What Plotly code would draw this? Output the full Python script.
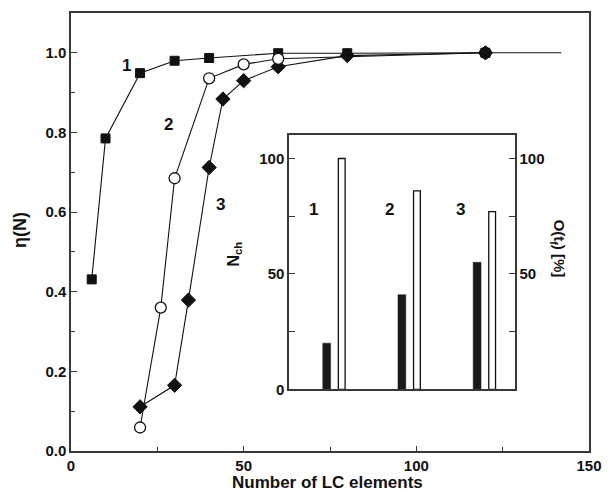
import plotly.graph_objects as go

# Efficiency eta(N) versus number of LC elements, three configurations
n_sq = [6, 10, 20, 30, 40, 60, 80, 120]
eta_sq = [0.431, 0.785, 0.949, 0.980, 0.987, 0.999, 0.999, 1.0]

n_dm = [20, 30, 34, 40, 44, 50, 60, 80, 120]
eta_dm = [0.111, 0.165, 0.379, 0.712, 0.884, 0.930, 0.965, 0.993, 1.0]

n_ci = [20, 26, 30, 40, 50, 60, 120]
eta_ci = [0.059, 0.360, 0.685, 0.936, 0.971, 0.985, 1.0]

# asymptotic continuation beyond the last computed point
limit_n = [120, 142]
limit_eta = [1.0, 1.0]

# Curve labels
curve_labels = ["1", "2", "3"]
curve_label_x = [16.2, 28.1, 43.2]
curve_label_y = [0.969, 0.819, 0.619]

# Inset: channel count and final overlap per configuration
groups = [1, 2, 3]
n_ch = [20, 41, 55]
overlap_pct = [100, 86, 77]
inset_label_x = [0.72, 1.73, 2.68]
inset_label_y = [78, 78, 78]

FONT = "Liberation Sans, Arial, Helvetica, sans-serif"
INK = "#111111"
AX = "#383838"

fig = go.Figure()

line_style = dict(color=INK, width=1.1)

fig.add_trace(go.Scatter(x=limit_n, y=limit_eta, mode="lines", line=line_style,
                         showlegend=False, hoverinfo="skip"))
fig.add_trace(go.Scatter(x=n_sq, y=eta_sq, mode="lines+markers", line=line_style,
                         marker=dict(symbol="square", size=9, color=INK,
                                     line=dict(color=INK, width=1)),
                         showlegend=False))
fig.add_trace(go.Scatter(x=n_dm, y=eta_dm, mode="lines+markers", line=line_style,
                         marker=dict(symbol="diamond", size=11, color=INK,
                                     line=dict(color=INK, width=1)),
                         showlegend=False))
ci_fill = ["white"] * (len(n_ci) - 1) + [INK]
fig.add_trace(go.Scatter(x=n_ci, y=eta_ci, mode="lines+markers", line=line_style,
                         marker=dict(symbol="circle", size=11, color=ci_fill,
                                     line=dict(color=INK, width=1.3)),
                         showlegend=False))

# Inset bars
fig.add_trace(go.Bar(x=groups, y=n_ch, xaxis="x2", yaxis="y2",
                     offset=-0.152, width=0.104,
                     marker=dict(color="#1a1a1a", line=dict(color="#1a1a1a", width=0.5)),
                     showlegend=False))
fig.add_trace(go.Bar(x=groups, y=overlap_pct, xaxis="x2", yaxis="y3",
                     offset=0.055, width=0.09,
                     marker=dict(color="white", line=dict(color=INK, width=1.3)),
                     showlegend=False))

tickfont = dict(family=FONT, size=15, color=INK, weight="bold")

fig.update_layout(
    width=613, height=494,
    margin=dict(l=71, r=14, t=11, b=43),
    paper_bgcolor="white", plot_bgcolor="white",
    barmode="overlay",
    xaxis=dict(domain=[0, 1], range=[0, 150], dtick=50, tick0=0,
               showgrid=False, zeroline=False, showline=True, mirror=True,
               linecolor=AX, linewidth=1.5, ticks="inside", ticklen=5,
               tickwidth=1, tickcolor=AX, tickfont=tickfont,
               minor=dict(ticks="inside", dtick=25, tick0=0, ticklen=4,
                          tickcolor=AX, showgrid=False)),
    yaxis=dict(domain=[0, 1], range=[0, 1.1], dtick=0.2, tick0=0,
               tickformat=".1f",
               showgrid=False, zeroline=False, showline=True, mirror=True,
               linecolor=AX, linewidth=1.5, ticks="inside", ticklen=6,
               tickwidth=1, tickcolor=AX, tickfont=tickfont,
               minor=dict(ticks="inside", dtick=0.1, tick0=0, ticklen=4,
                          tickcolor=AX, showgrid=False)),
    xaxis2=dict(domain=[0.421, 0.8566], range=[0.4, 3.4], anchor="y2",
                showgrid=False, zeroline=False, showline=True, mirror=True,
                linecolor=AX, linewidth=1.5, ticks="", showticklabels=False),
    yaxis2=dict(domain=[0.1409, 0.7205], range=[0, 110], anchor="x2",
                tickvals=[0, 50, 100], showgrid=False, zeroline=False,
                showline=True, linecolor=AX, linewidth=1.5,
                ticks="inside", ticklen=6, tickwidth=1, tickcolor=AX,
                tickfont=tickfont,
                minor=dict(ticks="inside", tickvals=[25, 75], ticklen=6,
                           tickcolor=AX, showgrid=False)),
    yaxis3=dict(range=[0, 110], anchor="x2", overlaying="y2", side="right",
                tickvals=[50, 100], showgrid=False, zeroline=False,
                showline=True, linecolor=AX, linewidth=1.5,
                ticks="inside", ticklen=6, tickwidth=1, tickcolor=AX,
                tickfont=tickfont,
                minor=dict(ticks="inside", tickvals=[25, 75], ticklen=6,
                           tickcolor=AX, showgrid=False)),
)

ann = []
for t, x, y in zip(curve_labels, curve_label_x, curve_label_y):
    ann.append(dict(x=x, y=y, xref="x", yref="y", text=t, showarrow=False,
                    font=dict(family=FONT, size=17, color=INK, weight="bold")))
for t, x, y in zip(curve_labels, inset_label_x, inset_label_y):
    ann.append(dict(x=x, y=y, xref="x2", yref="y2", text=t, showarrow=False,
                    font=dict(family=FONT, size=17, color=INK, weight="bold")))

ann.append(dict(x=0.496, y=-0.072, xref="paper", yref="paper",
                text="Number of LC elements", showarrow=False,
                xanchor="center", yanchor="middle",
                font=dict(family=FONT, size=17, color=INK, weight="bold")))
ann.append(dict(x=-0.0985, y=0.5045, xref="paper", yref="paper",
                text="η(N)", showarrow=False, textangle=-90,
                xanchor="center", yanchor="middle",
                font=dict(family=FONT, size=18, color=INK, weight="bold")))
ann.append(dict(x=0.316, y=0.45, xref="paper", yref="paper",
                text="N<sub>ch</sub>", showarrow=False, textangle=-90,
                xanchor="center", yanchor="middle",
                font=dict(family=FONT, size=16, color=INK, weight="bold")))
ann.append(dict(x=0.941, y=0.461, xref="paper", yref="paper",
                text="O(t<sub>f</sub>) [%]", showarrow=False, textangle=90,
                xanchor="center", yanchor="middle",
                font=dict(family=FONT, size=15, color=INK, weight="bold")))
fig.update_layout(annotations=ann)

fig.write_html("out.html")
